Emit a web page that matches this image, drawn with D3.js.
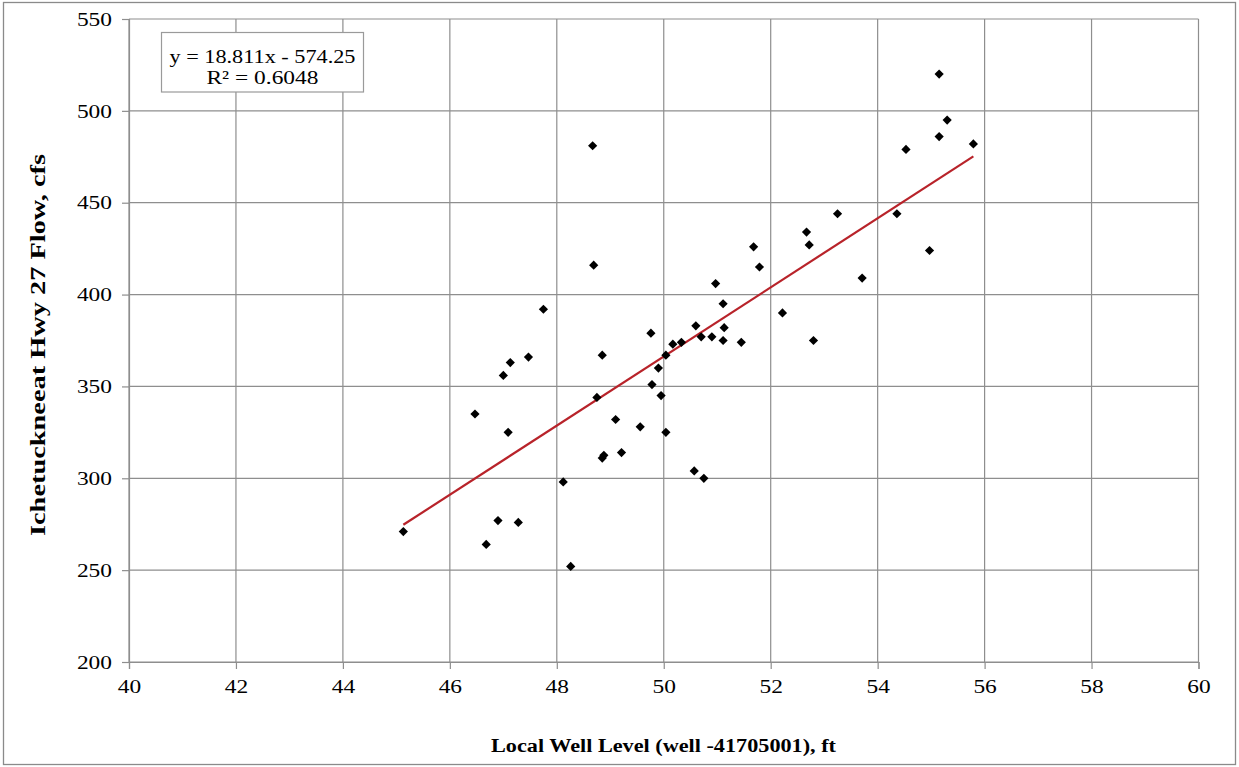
<!DOCTYPE html>
<html>
<head>
<meta charset="utf-8">
<script src="https://cdn.jsdelivr.net/npm/d3@7"></script>
<style>
  html, body { margin: 0; padding: 0; background: #ffffff; }
  svg { display: block; }
  svg text { font-family: "Liberation Serif", "Times New Roman", serif !important; fill: #000; }
</style>
</head>
<body>
<svg id="chart" width="1239" height="767"></svg>
<script>
// Local well level (ft) vs Ichetucknee flow at Hwy 27 (cfs)
const wellLevel = [45.13, 46.47, 46.68, 46.90, 47.00, 47.09, 47.13, 47.28, 47.47, 47.75,
                   48.12, 48.26, 48.67, 48.69, 48.75, 48.85, 48.85, 48.88, 49.10, 49.21,
                   49.56, 49.76, 49.78, 49.90, 49.95, 50.04, 50.04, 50.17, 50.33, 50.57,
                   50.60, 50.70, 50.75, 50.90, 50.97, 51.11, 51.13, 51.11, 51.45, 51.68,
                   51.79, 52.22, 52.67, 52.72, 52.80, 53.25, 53.71, 54.36, 54.53, 54.97,
                   55.15, 55.15, 55.30, 55.79];
const flow =      [271, 335, 264, 277, 356, 325, 363, 276, 366, 392,
                   298, 252, 481, 416, 344, 367, 311, 312.5, 332, 314,
                   328, 379, 351, 360, 345, 367, 325, 373, 374, 304,
                   383, 377, 300, 377, 406, 375, 382, 395, 374, 426,
                   415, 390, 434, 427, 375, 444, 409, 444, 479, 424,
                   486, 520, 495, 482];

// Linear trendline fitted to the data
const trendSlope = 18.811;
const trendIntercept = -574.25;
const trendR2 = 0.6048;
const trendLabels = ["y = 18.811x - 574.25", "R\u00B2 = 0.6048"];

const xTicks = [40, 42, 44, 46, 48, 50, 52, 54, 56, 58, 60];
const yTicks = [200, 250, 300, 350, 400, 450, 500, 550];
const xTitle = "Local Well Level (well -41705001), ft";
const yTitle = "Ichetuckneeat Hwy 27 Flow, cfs";

const svg = d3.select("#chart");
const W = 1239, H = 767;
const plot = { left: 129, right: 1198.5, top: 19, bottom: 662 };
const stretch = 1.2;
const serif = "Liberation Serif, Times New Roman, serif";
const gridColor = "#8e8e8e";

const x = d3.scaleLinear().domain([40, 60]).range([plot.left, plot.right]);
const y = d3.scaleLinear().domain([200, 550]).range([plot.bottom, plot.top]);

svg.append("rect").attr("width", W).attr("height", H).attr("fill", "#fff");

// outer chart frame
svg.append("rect")
  .attr("x", 3.5).attr("y", 2.5).attr("width", 1232).attr("height", 762)
  .attr("fill", "none").attr("stroke", "#8a8a8a").attr("stroke-width", 1.3);

// gridlines
const grid = svg.append("g");
grid.selectAll("line.v").data(xTicks).join("line")
  .attr("x1", d => x(d)).attr("x2", d => x(d))
  .attr("y1", plot.top).attr("y2", plot.bottom)
  .attr("stroke", gridColor).attr("stroke-width", 1.2);
grid.selectAll("line.h").data(yTicks).join("line")
  .attr("x1", plot.left).attr("x2", plot.right)
  .attr("y1", d => y(d)).attr("y2", d => y(d))
  .attr("stroke", gridColor).attr("stroke-width", 1.2);

// axes
const xAxis = svg.append("g")
  .attr("transform", `translate(0,${plot.bottom})`)
  .call(d3.axisBottom(x).tickValues(xTicks).tickSize(7).tickPadding(10).tickFormat(d3.format("d")));
const yAxis = svg.append("g")
  .attr("transform", `translate(${plot.left},0)`)
  .call(d3.axisLeft(y).tickValues(yTicks).tickSize(7).tickPadding(10).tickFormat(d3.format("d")));

[xAxis, yAxis].forEach(g => {
  g.attr("font-family", serif).attr("font-size", 19.5);
  g.select(".domain").attr("stroke", gridColor).attr("stroke-width", 1.2);
  g.selectAll(".tick line").attr("stroke", gridColor).attr("stroke-width", 1.2);
  g.selectAll(".tick text").attr("font-family", serif).attr("fill", "#000");
});
xAxis.selectAll(".tick text").attr("transform", `scale(${stretch},1)`);
yAxis.selectAll(".tick text")
  .attr("x", -17 / stretch)
  .attr("transform", `scale(${stretch},1)`);

// trendline over the range of the data
const [xMin, xMax] = d3.extent(wellLevel);
svg.append("line")
  .attr("x1", x(xMin)).attr("y1", y(trendSlope * xMin + trendIntercept))
  .attr("x2", x(xMax)).attr("y2", y(trendSlope * xMax + trendIntercept))
  .attr("stroke", "#b8232a").attr("stroke-width", 2.2);

// diamond markers
const diamond = "M0,-4.6L4.6,0L0,4.6L-4.6,0Z";
svg.append("g").selectAll("path").data(d3.range(wellLevel.length)).join("path")
  .attr("d", diamond)
  .attr("transform", i => `translate(${x(wellLevel[i])},${y(flow[i])})`)
  .attr("fill", "#000");

// trendline equation box
const box = svg.append("g");
box.append("rect")
  .attr("x", 161.5).attr("y", 32.5).attr("width", 202).attr("height", 59.5)
  .attr("fill", "#fff").attr("stroke", "#9a9a9a").attr("stroke-width", 1.2);
box.selectAll("text").data(trendLabels).join("text")
  .attr("x", 262.5).attr("y", (d, i) => 63 + i * 21)
  .attr("text-anchor", "middle")
  .attr("textLength", (d, i) => i === 0 ? 186 : 112)
  .attr("lengthAdjust", "spacingAndGlyphs")
  .attr("font-family", serif).attr("font-size", 19.5)
  .text(d => d);

// axis titles
svg.append("text")
  .attr("x", 663.5).attr("y", 752)
  .attr("text-anchor", "middle")
  .attr("textLength", 345).attr("lengthAdjust", "spacingAndGlyphs")
  .attr("font-family", serif).attr("font-size", 18.5).attr("font-weight", "bold")
  .text(xTitle);
svg.append("text")
  .attr("transform", "translate(45,345) rotate(-90)")
  .attr("text-anchor", "middle")
  .attr("textLength", 382).attr("lengthAdjust", "spacingAndGlyphs")
  .attr("font-family", serif).attr("font-size", 21).attr("font-weight", "bold")
  .text(yTitle);
</script>
</body>
</html>
